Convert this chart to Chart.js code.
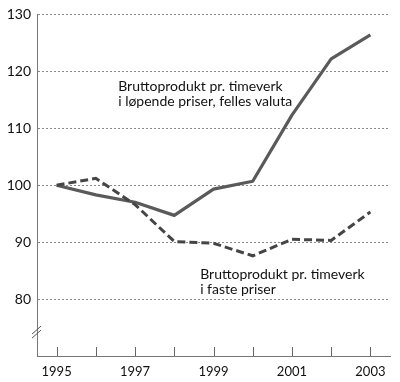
<!DOCTYPE html>
<html>
<head>
<meta charset="utf-8">
<script src="https://cdn.jsdelivr.net/npm/chart.js@4/dist/chart.umd.min.js"></script>
<style>
  html, body { margin: 0; padding: 0; background: #fff; }
  #wrap { width: 400px; height: 382px; }
</style>
</head>
<body>
<div id="wrap"><canvas id="c" width="400" height="382"></canvas></div>
<script>
// ---- data ----
const years = ['1995','1996','1997','1998','1999','2000','2001','2002','2003'];
const lopendePriser = [100, 98.3, 97.0, 94.7, 99.3, 100.7, 112.3, 122.2, 126.4];
const fastePriser   = [100, 101.2, 96.6, 90.1, 89.8, 87.6, 90.5, 90.3, 95.3];
const yTickValues = [80, 90, 100, 110, 120, 130];
const labelLopende = ['Bruttoprodukt pr. timeverk', 'i løpende priser, felles valuta'];
const labelFaste = ['Bruttoprodukt pr. timeverk', 'i faste priser'];

const FONT = 'Lato, "Open Sans", sans-serif';

// annotation anchors in data coordinates (category index, value)
const annotations = [
  { lines: labelLopende, x: 1.57, y: 116.5 },
  { lines: labelFaste,   x: 3.66, y: 83.5 }
];

const decorPlugin = {
  id: 'decor',
  afterDraw(chart) {
    const ctx = chart.ctx;
    const xs = chart.scales.x, ys = chart.scales.y;
    const area = chart.chartArea;
    ctx.save();
    // inward ticks on x axis
    ctx.strokeStyle = '#666';
    ctx.lineWidth = 1;
    for (let i = 0; i < years.length; i++) {
      const px = Math.round(xs.getPixelForValue(i)) + 0.5;
      ctx.beginPath();
      ctx.moveTo(px, area.bottom);
      ctx.lineTo(px, area.bottom - 9);
      ctx.stroke();
    }
    // axis break marks
    const by = ys.getPixelForValue(74.2);
    const bx = area.left;
    ctx.strokeStyle = '#555';
    ctx.lineWidth = 1;
    for (const off of [-2, 2]) {
      ctx.beginPath();
      ctx.moveTo(bx - 5, by + off + 4);
      ctx.lineTo(bx + 4, by + off - 4);
      ctx.stroke();
    }
    // annotations
    ctx.fillStyle = '#111';
    ctx.font = '14px ' + FONT;
    ctx.textAlign = 'left';
    ctx.textBaseline = 'alphabetic';
    for (const a of annotations) {
      const px = xs.getPixelForValue(a.x);
      const py = ys.getPixelForValue(a.y);
      a.lines.forEach((t, k) => ctx.fillText(t, px, py + k * 14.5));
    }
    ctx.restore();
  }
};

new Chart(document.getElementById('c'), {
  type: 'line',
  data: {
    labels: years,
    datasets: [
      {
        label: labelLopende.join(' '),
        data: lopendePriser,
        borderColor: '#5a5a5a',
        borderWidth: 3.2,
        pointRadius: 0,
        tension: 0,
        borderJoinStyle: 'round',
        order: 1
      },
      {
        label: labelFaste.join(' '),
        data: fastePriser,
        borderColor: '#454545',
        borderWidth: 3,
        borderDash: [8, 4],
        pointRadius: 0,
        tension: 0,
        order: 0
      }
    ]
  },
  options: {
    responsive: false,
    animation: false,
    layout: { padding: { top: 13, right: 10, left: 0, bottom: 0 } },
    plugins: { legend: { display: false }, tooltip: { enabled: false } },
    scales: {
      x: {
        type: 'category',
        offset: true,
        grid: { display: false, drawTicks: false },
        border: { display: true, color: '#777', width: 1 },
        ticks: {
          autoSkip: false,
          maxRotation: 0,
          padding: 8,
          color: '#111',
          font: { family: FONT, size: 13 },
          callback: (v, i) => (i % 2 === 0 ? years[i] : '')
        },
        afterFit: s => { s.height = 26; }
      },
      y: {
        min: 70,
        max: 130,
        afterBuildTicks: s => { s.ticks = [70].concat(yTickValues).map(v => ({ value: v })); },
        grid: {
          drawTicks: false,
          color: c => (c.tick && c.tick.value === 70 ? 'rgba(0,0,0,0)' : '#8a8a8a'),
          lineWidth: 1
        },
        border: { display: true, color: '#777', width: 1, dash: [2, 2] },
        ticks: {
          padding: 6,
          color: '#111',
          font: { family: FONT, size: 14 },
          callback: v => (v === 70 ? '' : String(v))
        },
        afterFit: s => { s.width = 37; }
      }
    }
  },
  plugins: [decorPlugin]
});
</script>
</body>
</html>
